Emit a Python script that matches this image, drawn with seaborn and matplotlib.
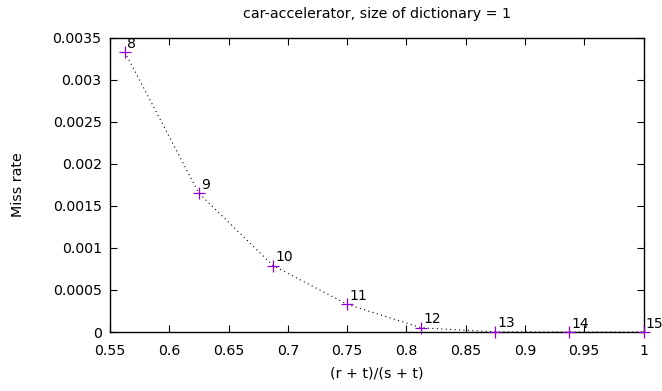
import pandas as pd
import matplotlib
matplotlib.use('Agg')
import matplotlib.pyplot as plt
import seaborn as sns

# data
ratio = [0.5625, 0.625, 0.6875, 0.75, 0.8125, 0.875, 0.9375, 1.0]
miss_rate = [0.00333, 0.00165, 0.00079, 0.00033, 0.00005, 0.000002, 0.0, 0.0]
point_labels = ['8', '9', '10', '11', '12', '13', '14', '15']

data = pd.DataFrame({'ratio': ratio, 'miss': miss_rate, 'label': point_labels})

sns.set_style('ticks')
plt.rcParams['font.family'] = ['DejaVu Sans']
plt.rcParams['text.color'] = 'black'
plt.rcParams['axes.labelcolor'] = 'black'
plt.rcParams['xtick.color'] = 'black'
plt.rcParams['ytick.color'] = 'black'

fig, ax = plt.subplots(figsize=(6.62, 3.91), dpi=100)
fig.subplots_adjust(left=110 / 662, right=643.5 / 662, top=1 - 37.7 / 391, bottom=1 - 332 / 391)

# dotted connecting line
sns.lineplot(data=data, x='ratio', y='miss', ax=ax, color='black',
             linestyle=(0, (1, 3)), linewidth=0.8, sort=False)
# purple crosses
sns.scatterplot(data=data, x='ratio', y='miss', ax=ax, marker='+', s=70,
                color='#9400D3', linewidth=0.9, zorder=3, clip_on=False)

# point labels
for _, row in data.iterrows():
    ax.annotate(row['label'], (row['ratio'], row['miss']), xytext=(1.5, 1),
                textcoords='offset points', fontsize=10, ha='left', va='bottom')

ax.set_xlim(0.55, 1.0)
ax.set_ylim(0, 0.0035)
ax.set_xticks([0.55, 0.6, 0.65, 0.7, 0.75, 0.8, 0.85, 0.9, 0.95, 1.0])
ax.set_xticklabels(['0.55', '0.6', '0.65', '0.7', '0.75', '0.8', '0.85', '0.9', '0.95', '1'])
ax.set_yticks([0, 0.0005, 0.001, 0.0015, 0.002, 0.0025, 0.003, 0.0035])
ax.set_yticklabels(['0', '0.0005', '0.001', '0.0015', '0.002', '0.0025', '0.003', '0.0035'])
ax.tick_params(direction='in', length=5, width=0.8, top=True, right=True,
               labelsize=10.2)
ax.tick_params(axis='x', pad=8.5)
ax.tick_params(axis='y', pad=6)
for s in ax.spines.values():
    s.set_linewidth(1.0)
    s.set_color('black')

ax.set_xlabel('(r + t)/(s + t)', fontsize=10.3, labelpad=6)
ax.set_ylabel('Miss rate', fontsize=10.3, labelpad=20)
ax.set_title('car-accelerator, size of dictionary = 1', fontsize=10.3, pad=14)

plt.savefig('out.png', dpi=100)
